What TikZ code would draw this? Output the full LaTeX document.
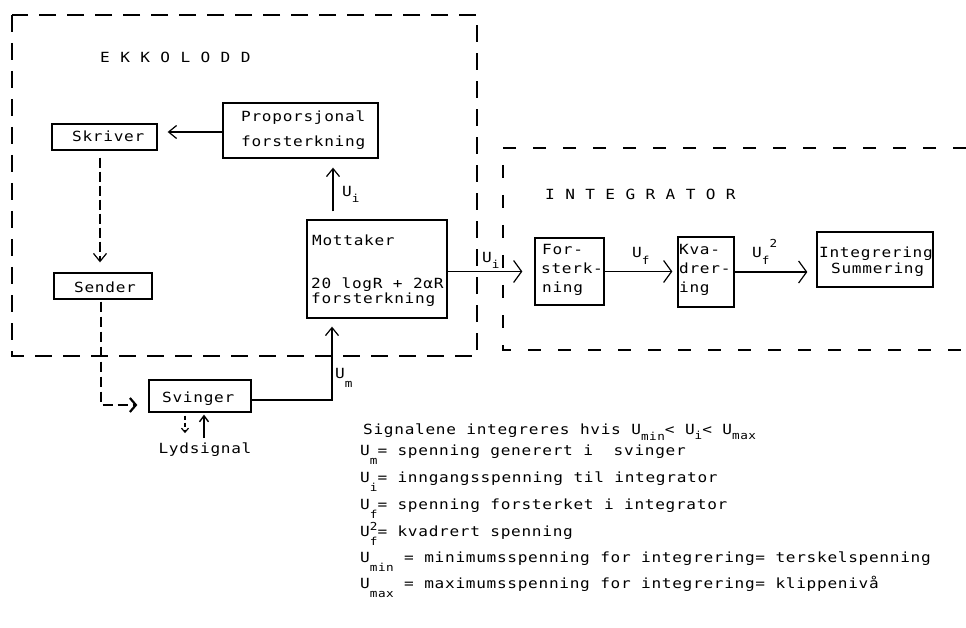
\documentclass[tikz,border=0pt]{standalone}
\usepackage{fontspec}
\usetikzlibrary{arrows.meta,calc}
\newfontfamily\twfont[LetterSpace=5,FakeStretch=1.15]{DejaVu Sans Mono}
\newcommand{\tws}{\twfont\fontsize{14}{17}\selectfont}
\newcommand{\subx}[2][8]{\raisebox{-#1pt}{\fontsize{11}{12}\selectfont #2}}
\newcommand{\supx}[2][9]{\raisebox{#1pt}{\fontsize{11}{12}\selectfont #2}}
\newcommand{\subsupx}[4]{\rlap{\raisebox{-#1pt}{\fontsize{11}{12}\selectfont #3}}\raisebox{#2pt}{\fontsize{11}{12}\selectfont #4}}
\begin{document}
\begin{tikzpicture}[x=1pt,y=-1pt,
  box/.style={draw, line width=1.3pt, inner sep=0pt},
  txt/.style={inner sep=0pt, anchor=base west, font=\tws},
  con/.style={line width=1.2pt},
  frameA/.style={line width=1.2pt, dash pattern=on 17pt off 11pt},
  frameB/.style={line width=1.2pt, dash pattern=on 13pt off 17pt},
  dashline/.style={dash pattern=on 10pt off 4pt},
  tipA/.style={-{Straight Barb[length=8pt,width=13pt,line width=1.2pt]}},
  tipB/.style={-{Straight Barb[length=8pt,width=22pt,line width=1.2pt]}},
  tipBold/.style={-{Straight Barb[length=6pt,width=14pt,line width=2.2pt]}},
  tipS/.style={-{Straight Barb[length=4pt,width=7pt,line width=1.2pt]}},
  tipU/.style={-{Straight Barb[length=6pt,width=9pt,line width=1.4pt]}}]
\fill[white] (0,0) rectangle (966,628);
\useasboundingbox (0,0) rectangle (966,628);

% frames
\draw[frameA] (12,15) rectangle (477,356);
\draw[frameB] (966,148) -- (503,148) -- (503,350) -- (966,350);

% boxes
\node[box, minimum width=105pt, minimum height=26pt] (skriver) at (104.5,137) {};
\node[box, minimum width=98pt, minimum height=26pt] (sender) at (103,286) {};
\node[box, minimum width=155pt, minimum height=55pt] (prop) at (300.5,130.5) {};
\node[box, minimum width=140pt, minimum height=98pt] (mott) at (377,269) {};
\node[box, minimum width=102pt, minimum height=32pt] (sving) at (200,396) {};
\node[box, minimum width=69pt, minimum height=67pt] (forst) at (569.5,271.5) {};
\node[box, minimum width=56pt, minimum height=70pt] (kvad) at (706,272) {};
\node[box, minimum width=116pt, minimum height=55pt] (integ) at (875,259.5) {};

% texts
\node[txt] (t-ekko) at (100,63) {E K K O L O D D};
\node[txt] (t-skriver) at (72,142) {Skriver};
\node[txt] (t-sender) at (74,292) {Sender};
\node[txt] (t-prop1) at (241,122) {Proporsjonal};
\node[txt] (t-prop2) at (241,147) {forsterkning};
\node[txt] (t-mott1) at (312,246) {Mottaker};
\node[txt] (t-mott2) at (311,288) {20 logR + 2αR};
\node[txt] (t-mott3) at (311,303) {forsterkning};
\node[txt] (t-ui1) at (342,197) {U\subx[6]{i}};
\node[txt] (t-ui2) at (482,262) {U\subx[6]{i}};
\node[txt] (t-um) at (335,378) {U\subx[9]{m}};
\node[txt] (t-sving) at (162,402) {Svinger};
\node[txt, anchor=base] (lyd) at (205,453) {Lydsignal};
\node[txt] (t-integ) at (545,200) {I N T E G R A T O R};
\node[txt] (t-f1) at (542,255) {For-};
\node[txt] (t-f2) at (541,274) {sterk-};
\node[txt] (t-f3) at (542,293) {ning};
\node[txt] (t-k1) at (679,255) {Kva-};
\node[txt] (t-k2) at (679,274) {drer-};
\node[txt] (t-k3) at (679,293) {ing};
\node[txt] (t-i1) at (819,258) {Integrering};
\node[txt] (t-i2) at (831,273) {Summering};
\node[txt] (t-uf) at (632,258) {U\subx[7]{f}};
\node[txt] (t-uf2) at (752,258) {U\subx[7]{f}\supx[10]{2}};

% legend
\node[txt] (l1) at (363,434) {Signalene integreres hvis U\subx[6]{min}< U\subx[5]{i}< U\subx[5]{max}};
\node[txt] (l2) at (360,455) {U\subx[9]{m}= spenning generert i~ svinger};
\node[txt] (l3) at (360,482) {U\subx[9]{i}= inngangsspenning til integrator};
\node[txt] (l4) at (360,509) {U\subx[9]{f}= spenning forsterket i integrator};
\node[txt] (l5) at (360,536) {U\subsupx{9}{6}{f}{2}= kvadrert spenning};
\node[txt] (l6) at (360,562) {U\subx[9]{min} = minimumsspenning for integrering= terskelspenning};
\node[txt] (l7) at (360,588) {U\subx[9]{max} = maximumsspenning for integrering= klippenivå};

% connectors
\draw[con, tipA] ($(prop.west)+(0,1.5)$) -- ($(skriver.east)+(10,-5)$);
\draw[con, dashline, tipA] ($(skriver.south)+(-4.5,7)$) -- ($(sender.north)+(-3,-10)$);
\draw[con, dash pattern=on 10pt off 5pt, tipBold] ($(sender.south)+(-2,2)$) |- ($(sving.west)+(-11,9)$);
\draw[con, tipA] ($(sving.east)+(0,4)$) -| ($(mott.south)+(-45,8)$);
\draw[con, tipA] ($(mott.north)+(-44,-8)$) -- ($(prop.south)+(32.5,9)$);
\draw[con, tipB] (mott.east |- forst.west) -- ($(forst.west)+(-12,0)$);
\draw[con, tipB] (forst.east) -- ($(forst.east -| kvad.west)+(-5,0)$);
\draw[con, tipB] (kvad.east) -- ($(kvad.east -| integ.west)+(-9,0)$);
\draw[con, dash pattern=on 4pt off 3pt, tipS] ($(sving.south)+(-15,3)$) -- ($(lyd.north)+(-20,-9)$);
\draw[con, tipU] ($(lyd.north)+(-1,-4)$) -- ($(sving.south)+(4,2)$);
\end{tikzpicture}
\end{document}
